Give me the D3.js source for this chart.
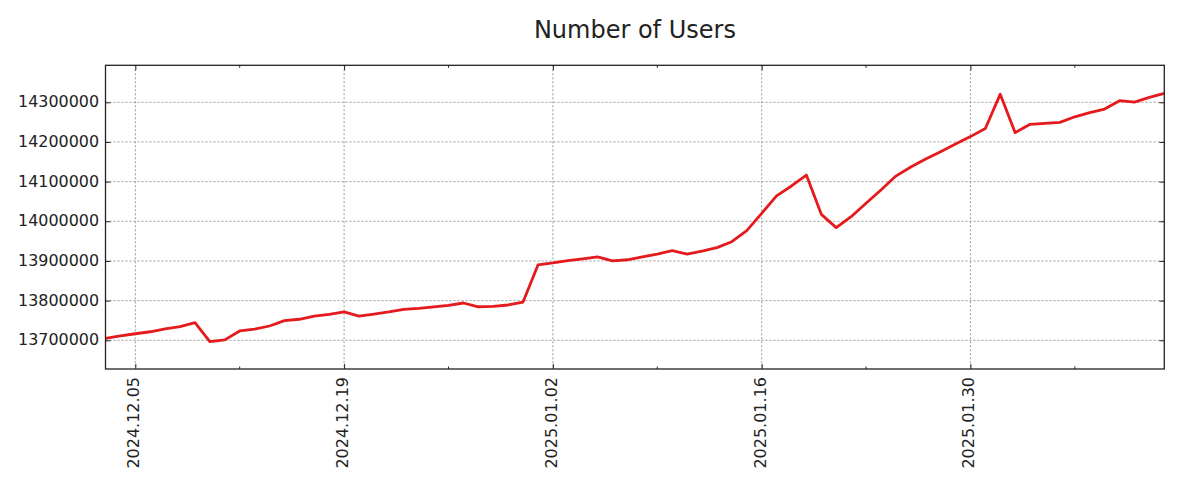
<!DOCTYPE html>
<html><head><meta charset="utf-8">
<script src="https://cdn.jsdelivr.net/npm/d3@7"></script>
<style>body{margin:0;background:#fff}svg{display:block}</style>
</head><body><svg id="c" width="1200" height="500"></svg>
<script>
const title = "Number of Users";
const dates = [
"2024-12-03","2024-12-04","2024-12-05","2024-12-06","2024-12-07","2024-12-08","2024-12-09","2024-12-10","2024-12-11","2024-12-12",
"2024-12-13","2024-12-14","2024-12-15","2024-12-16","2024-12-17","2024-12-18","2024-12-19","2024-12-20","2024-12-21","2024-12-22",
"2024-12-23","2024-12-24","2024-12-25","2024-12-26","2024-12-27","2024-12-28","2024-12-29","2024-12-30","2024-12-31",
"2025-01-01","2025-01-02","2025-01-03","2025-01-04","2025-01-05","2025-01-06","2025-01-07","2025-01-08","2025-01-09","2025-01-10",
"2025-01-11","2025-01-12","2025-01-13","2025-01-14","2025-01-15","2025-01-16","2025-01-17","2025-01-18","2025-01-19","2025-01-20",
"2025-01-21","2025-01-22","2025-01-23","2025-01-24","2025-01-25","2025-01-26","2025-01-27","2025-01-28","2025-01-29","2025-01-30",
"2025-01-31","2025-02-01","2025-02-02","2025-02-03","2025-02-04","2025-02-05","2025-02-06","2025-02-07","2025-02-08","2025-02-09",
"2025-02-10","2025-02-11","2025-02-12"
];
const users = [
13705000,13711000,13716500,13721500,13728500,13734500,13744500,13696500,13701000,13723500,
13728000,13736000,13749500,13753000,13761000,13765500,13771500,13761000,13766000,13771500,
13778000,13780500,13784000,13788000,13794000,13784500,13785500,13789000,13796500,
13890000,13895000,13901000,13905500,13910500,13900000,13903000,13910000,13917000,13926000,
13917500,13925000,13933500,13948500,13976500,14020000,14064000,14089000,14116500,14017500,
13984000,14011500,14045500,14079000,14114000,14137000,14157000,14175500,14195000,14213500,
14234000,14320500,14223500,14244500,14247000,14249500,14263500,14274000,14283000,14304000,
14300500,14312500,14322500
];
const yTicks = [13700000,13800000,13900000,14000000,14100000,14200000,14300000];
const xMajorTicks = ["2024-12-05","2024-12-19","2025-01-02","2025-01-16","2025-01-30"];
const xMinorTicks = ["2024-12-12","2024-12-26","2025-01-09","2025-01-23","2025-02-06"];

const parse = d3.utcParse("%Y-%m-%d");
const fmt = d3.utcFormat("%Y.%m.%d");
const data = dates.map((d,i)=>({date:parse(d), v:users[i]}));

const L=105.5, R=1164.3, T=65.3, B=369;
const svg = d3.select("#c");
svg.append("rect").attr("width",1200).attr("height",500).attr("fill","#fff");

const x = d3.scaleUtc().domain(d3.extent(data,d=>d.date)).range([L,R]);
const y = d3.scaleLinear().domain([13627600,14393300]).range([B,T]);

const font = "'DejaVu Sans', sans-serif";
const g = svg.append("g");

// grid
g.append("g").selectAll("line").data(yTicks).join("line")
  .attr("x1",L).attr("x2",R).attr("y1",d=>y(d)).attr("y2",d=>y(d))
  .attr("stroke","#999").attr("stroke-width",1).attr("stroke-dasharray","2,2");
g.append("g").selectAll("line").data(xMajorTicks.map(parse)).join("line")
  .attr("x1",d=>x(d)).attr("x2",d=>x(d)).attr("y1",T).attr("y2",B)
  .attr("stroke","#999").attr("stroke-width",1).attr("stroke-dasharray","2,2");

// line
svg.append("clipPath").attr("id","clp").append("rect")
  .attr("x",L).attr("y",T).attr("width",R-L).attr("height",B-T);
g.append("path").datum(data)
  .attr("d", d3.line().x(d=>x(d.date)).y(d=>y(d.v)))
  .attr("fill","none").attr("stroke","#e41a1c").attr("stroke-width",2.8)
  .attr("stroke-linejoin","round").attr("clip-path","url(#clp)");

// axes (inward ticks)
const axB = g.append("g").attr("transform",`translate(0,${B})`)
  .call(d3.axisBottom(x).tickValues(xMajorTicks.map(parse)).tickSize(-5).tickFormat(fmt));
const axT = g.append("g").attr("transform",`translate(0,${T})`)
  .call(d3.axisTop(x).tickValues(xMajorTicks.map(parse)).tickSize(-5).tickFormat(""));
const axL = g.append("g").attr("transform",`translate(${L},0)`)
  .call(d3.axisLeft(y).tickValues(yTicks).tickSize(-5).tickFormat(d3.format("d")));
const axR = g.append("g").attr("transform",`translate(${R},0)`)
  .call(d3.axisRight(y).tickValues(yTicks).tickSize(-5).tickFormat(""));
[axB,axT,axL,axR].forEach(a=>{
  a.select(".domain").remove();
  a.selectAll(".tick line").attr("stroke","#222").attr("stroke-width",1);
});
// minor ticks
g.append("g").selectAll("line").data(xMinorTicks.map(parse)).join("line")
  .attr("x1",d=>x(d)).attr("x2",d=>x(d)).attr("y1",B).attr("y2",B-2.5)
  .attr("stroke","#222").attr("stroke-width",1);
g.append("g").selectAll("line").data(xMinorTicks.map(parse)).join("line")
  .attr("x1",d=>x(d)).attr("x2",d=>x(d)).attr("y1",T).attr("y2",T+2.5)
  .attr("stroke","#222").attr("stroke-width",1);

axB.selectAll(".tick text")
  .attr("font-family",font).attr("font-size","16px").attr("fill","#222")
  .attr("text-anchor","end").attr("y",null).attr("dy",null).attr("x",null)
  .attr("transform","translate(3.5,8) rotate(-90)");
axL.selectAll(".tick text")
  .attr("font-family",font).attr("font-size","15.9px").attr("fill","#222")
  .attr("text-anchor","end").attr("x",-6.5).attr("dy",null).attr("y",4.5);

// frame
g.append("rect").attr("x",L).attr("y",T).attr("width",R-L).attr("height",B-T)
  .attr("fill","none").attr("stroke","#222").attr("stroke-width",1.3);

// title
svg.append("text").attr("x",(L+R)/2).attr("y",38.3).attr("text-anchor","middle")
  .attr("font-family",font).attr("font-size","24px").attr("fill","#222").text(title);
</script>
</body></html>
